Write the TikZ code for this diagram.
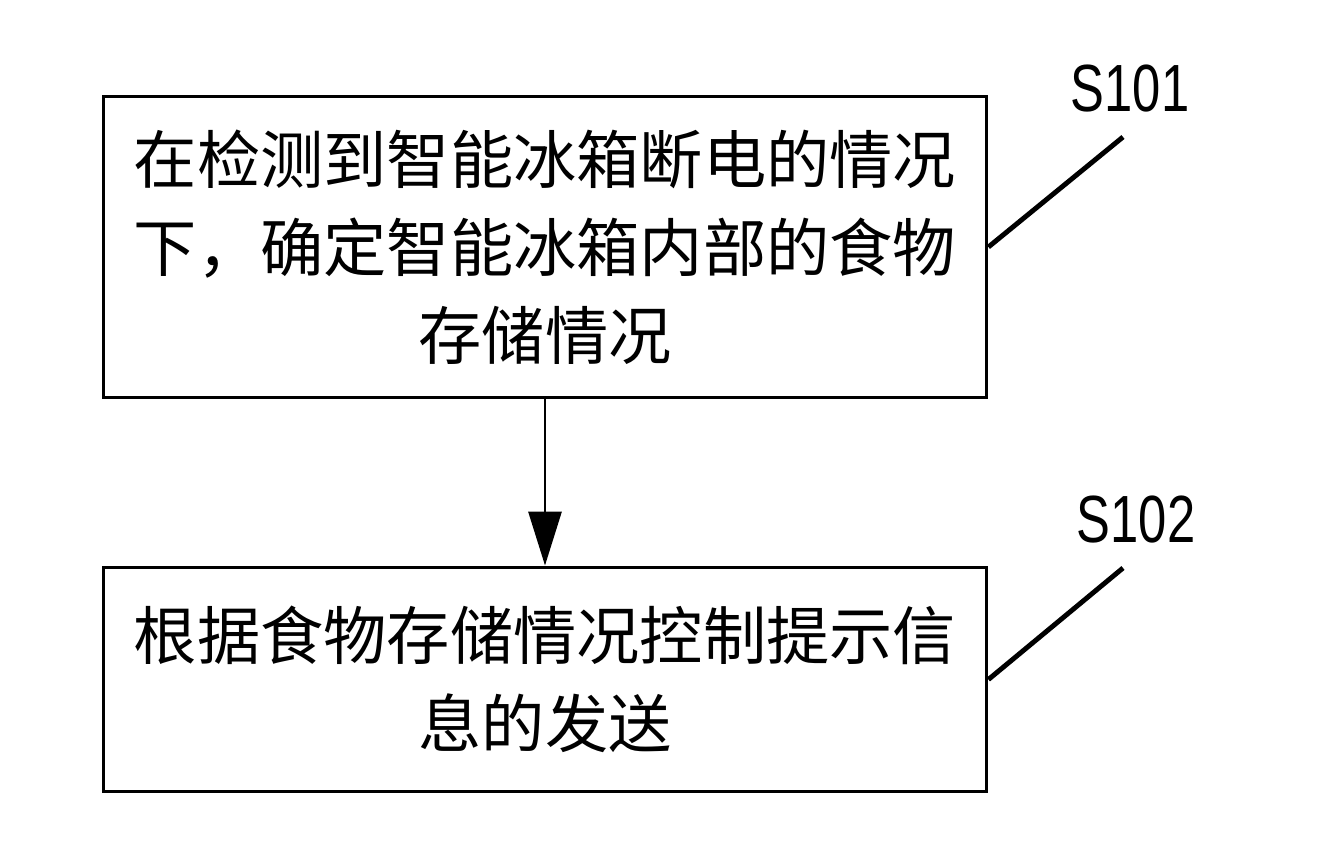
\documentclass[tikz,border=0pt]{standalone}
\usepackage{fontspec}
\setmainfont{Liberation Sans}
\newfontfamily\cjk{Noto Sans CJK SC}
\usepackage{tikz}
\usetikzlibrary{arrows.meta,positioning}

\begin{document}
\begin{tikzpicture}[x=0.02cm,y=-0.02cm,
    stepbox/.style={draw,line width=1.7pt,minimum width=17.68cm,align=center,
      inner sep=0pt,font=\cjk\fontsize{36}{50}\selectfont},
    leader/.style={line width=2.8pt},
    tag/.style={font=\fontsize{38}{40}\selectfont,inner sep=0pt}]
      \useasboundingbox (0,0) rectangle (1326,846);
      \begin{scope}
        \node[stepbox,minimum height=6.02cm] (s101) at (545,247)
          {在检测到智能冰箱断电的情况\\下，确定智能冰箱内部的食物\\存储情况};
        \node[stepbox,minimum height=4.5cm] (s102) at (545,679.5)
          {根据食物存储情况控制提示信\\息的发送};
        \coordinate (l1) at (1123,137);
        \coordinate (l2) at (1123,568);
        \node[tag] (t1) at (1130,89) {\scalebox{0.76}[1]{S101}};
        \node[tag] (t2) at (1136,520) {\scalebox{0.76}[1]{S102}};
        \draw[line width=1.7pt,-{Triangle[width=0.66cm,length=1.08cm]}] (s101) -- (s102);
        \draw[leader] (s101.east) -- (l1);
        \draw[leader] (s102.east) -- (l2);
      \end{scope}
    \end{tikzpicture}
\end{document}
